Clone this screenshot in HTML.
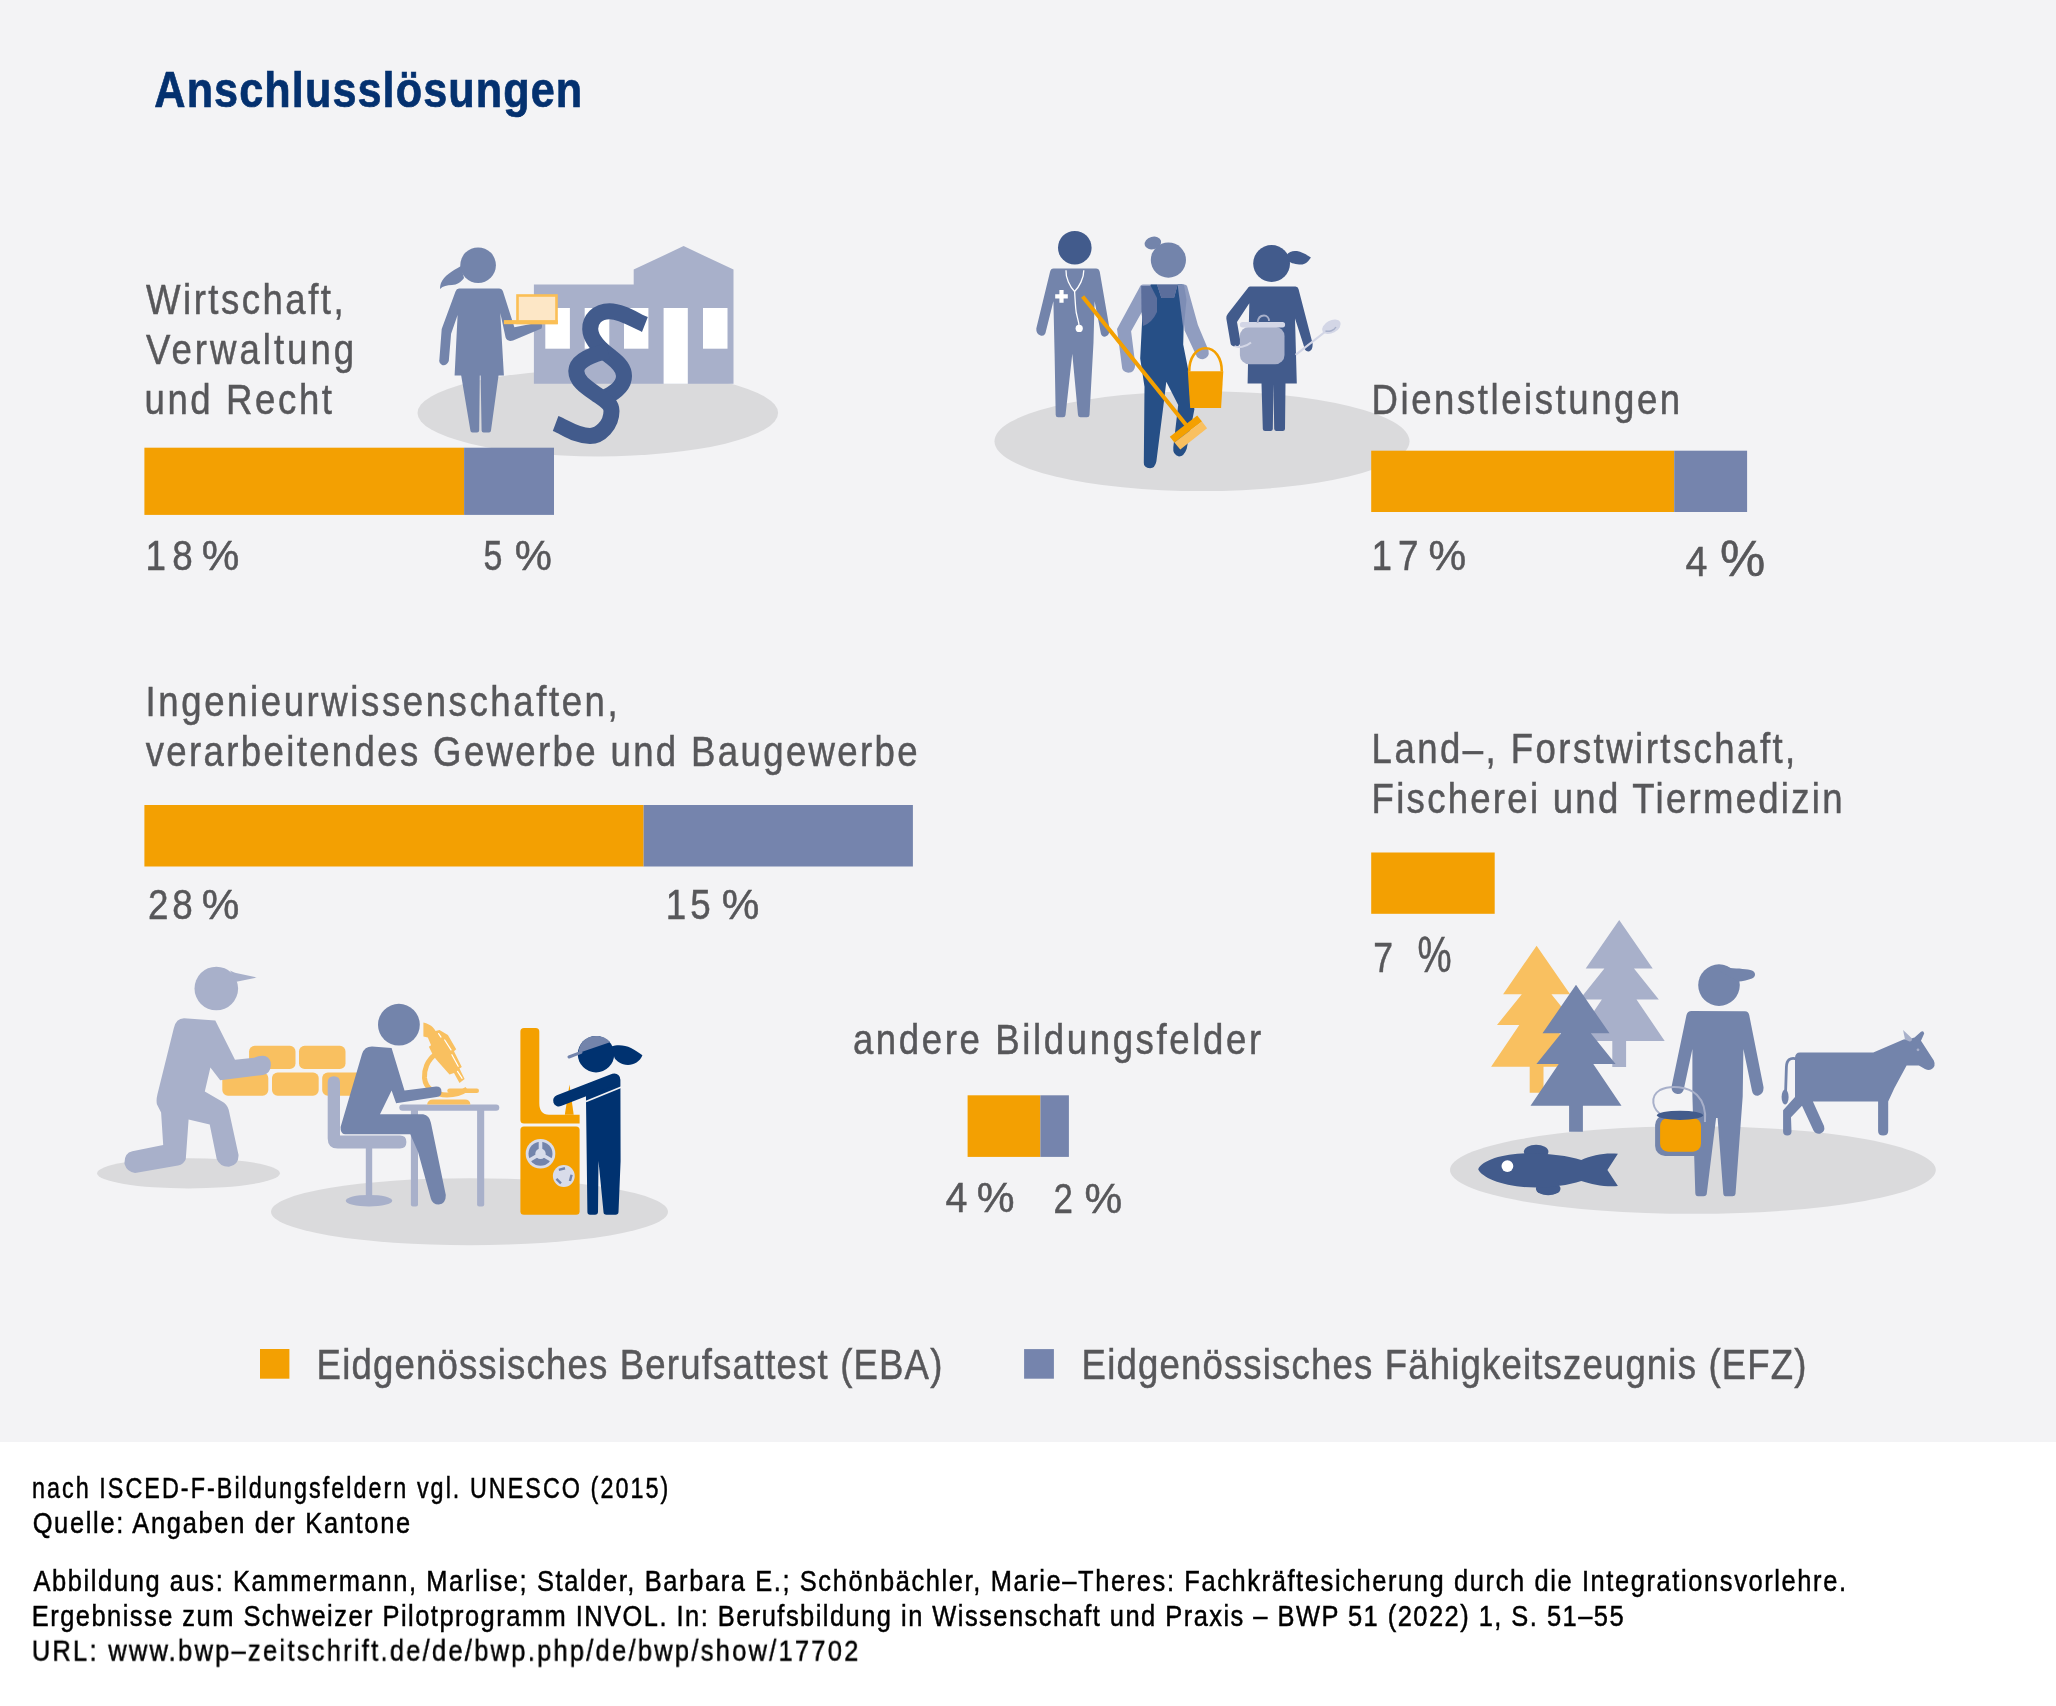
<!DOCTYPE html>
<html><head><meta charset="utf-8"><title>Anschlusslösungen</title>
<style>html,body{margin:0;padding:0;background:#fff;width:2056px;height:1706px;overflow:hidden}
svg{display:block;will-change:transform} text{font-family:"Liberation Sans",sans-serif}</style></head>
<body>
<svg width="2056" height="1706" viewBox="0 0 2056 1706">
<rect x="0" y="0" width="2056" height="1442" fill="#f3f3f5"/>
<!-- ground ellipses -->
<ellipse cx="597.8" cy="413" rx="180.3" ry="43.4" fill="#dadadc"/>
<ellipse cx="1202" cy="441.2" rx="207.5" ry="49.9" fill="#dadadc"/>
<ellipse cx="188.5" cy="1173.3" rx="91.4" ry="15.1" fill="#dadadc"/>
<ellipse cx="469.5" cy="1211.7" rx="198.5" ry="33.5" fill="#dadadc"/>
<ellipse cx="1692.9" cy="1170" rx="242.9" ry="43.8" fill="#dadadc"/>

<!-- FIG 1: building, woman, paragraph -->
<g id="fig1">
 <path d="M533.9 284.5 H633.7 V269.6 L683.6 246.1 L733.5 269.6 V383.8 H533.9 Z" fill="#a8b0ca"/>
 <rect x="545.3" y="308" width="24.6" height="40.7" fill="#fff"/>
 <rect x="584.7" y="308" width="24.6" height="40.7" fill="#fff"/>
 <rect x="624" y="308" width="24.4" height="40.7" fill="#fff"/>
 <rect x="663.6" y="308" width="24.2" height="75.8" fill="#fff"/>
 <rect x="703" y="308" width="24.5" height="40.7" fill="#fff"/>
 <g fill="#7384ab">
  <circle cx="478.1" cy="265.2" r="17.8"/>
  <path d="M461 266 C452 271 444 276 441 283 C440 286 440 288 440 289 C443 286 447 285 452 285 C457 285 461 282 464 278 Z"/>
  <path d="M459 288.6 H499 Q502 288.6 503 291.5 L514.4 327.3 L538.5 322.5 Q543.5 323 541.5 328.5 L513 340.5 Q507.5 342 505.6 337.5 L500.3 313 L503.9 375.4 H454.6 L457.6 315 L451.1 333.8 L448.8 361 Q446 366.5 442 365 Q438.5 363 439.4 359.6 L441.7 329.1 L455.5 291.5 Q456.5 288.6 459 288.6 Z"/>
  <path d="M461.1 375 H479.8 L479.2 430.5 Q479 432.5 477 432.5 H472.5 Q470.5 432.5 470.4 430.5 Z"/>
  <path d="M480.6 375 H498.6 L491 430.5 Q490.8 432.5 489 432.5 H483.6 Q481.6 432.5 481.6 430.5 Z"/>
 </g>
 <rect x="517.5" y="295.5" width="39" height="27.4" fill="#fde7c6" stroke="#fbbf55" stroke-width="2.6"/>
 <rect x="503.9" y="320.1" width="53.9" height="4.1" fill="#fbbf55"/>
 <g fill="none" stroke="#425b8c" stroke-width="16">
  <path d="M644.9,324.5 C636,321 622,311.2 609.6,311.2 C597,311.2 590,320 590.2,329 C590.5,340 600,349 611,357 C620,364 624,369 624,376 C624,385 617,392 603,398.5"/>
  <path d="M608,351 C594,354 576.5,360 576.3,371 C576.5,381 586,387 596,394 C606,401 611.5,404 611.5,411 C611.5,425 600,436 590,436 C576,436 565,427 555.6,423.5"/>
 </g>
</g>

<!-- bars -->
<rect x="144.4" y="447.7" width="319.7" height="67.2" fill="#f3a002"/>
<rect x="464.1" y="447.7" width="89.9" height="67.2" fill="#7584ad"/>
<rect x="1371.2" y="450.7" width="303" height="61.3" fill="#f3a002"/>
<rect x="1674.2" y="450.7" width="72.9" height="61.3" fill="#7584ad"/>
<rect x="144.4" y="805" width="499.2" height="61.5" fill="#f3a002"/>
<rect x="643.6" y="805" width="269.3" height="61.5" fill="#7584ad"/>
<rect x="1371.2" y="852.5" width="123.5" height="61.3" fill="#f3a002"/>
<rect x="967.6" y="1095.3" width="72.8" height="61.6" fill="#f3a002"/>
<rect x="1040.4" y="1095.3" width="28.5" height="61.6" fill="#7584ad"/>
<rect x="260" y="1349" width="29.4" height="29.7" fill="#f3a002"/>
<rect x="1024.1" y="1349.1" width="29.8" height="29.6" fill="#7584ad"/>
<!-- FIG 2: services -->
<g id="fig2">
 <!-- doctor -->
 <circle cx="1074.8" cy="247.7" r="16.8" fill="#425b8c"/>
 <path fill="#7384ab" d="M1053.5 268.6 H1096 Q1099 268.6 1099.8 272 L1109.5 328.6 Q1110 335 1105.5 336.6 Q1101.5 337 1100.9 333.5 L1094.6 301.2 L1093.5 342.4 L1089.5 415 Q1089.3 417.3 1087 417.3 H1080.5 Q1078.2 417.3 1078 415 L1072.3 353.8 L1065.5 415 Q1065.3 417.3 1063 417.3 H1058 Q1055.8 417.3 1055.7 415 L1054.6 353.8 L1053.4 301.2 L1045.4 333.2 Q1044 336.5 1040.5 335.5 Q1036 334 1036.3 328.6 L1050 272 Q1050.8 268.6 1053.5 268.6 Z"/>
 <path fill="none" stroke="#fff" stroke-width="1.3" d="M1066 270.3 C1065.5 278 1070 287 1074.6 291.5 C1079 287 1084 278 1083.8 270.3 M1074.6 291.5 C1075 298 1075.3 303 1075.7 308 C1076 316 1079 320 1079.2 327"/>
 <circle cx="1079.2" cy="328.4" r="3.6" fill="#fff"/>
 <path fill="#fff" d="M1059.4 290.1 H1063.6 V294.3 H1067.8 V298.5 H1063.6 V302.7 H1059.4 V298.5 H1055.2 V294.3 H1059.4 Z"/>
 <!-- cleaner -->
 <ellipse cx="1152.9" cy="243" rx="8.4" ry="6.2" transform="rotate(-15 1152.9 243)" fill="#7384ab"/>
 <circle cx="1168.4" cy="260.1" r="17.6" fill="#7384ab"/>
 <path fill="#909dc0" d="M1143 284.5 H1184 Q1187 284.5 1187.5 287.5 L1197.9 324.9 L1208.5 350.2 Q1210 357.5 1203 359.3 Q1197.5 359 1195.8 354.4 L1184.6 330.5 L1183.2 316.4 L1141.7 312.2 L1131.1 331.2 L1135.3 364.2 Q1135 372.5 1128.3 372.7 Q1122 372 1122 367.1 L1117 329.1 L1139.5 287.5 Q1140.5 284.5 1143 284.5 Z"/>
 <path fill="#264f86" d="M1150.8 284.5 H1157 L1161.4 298.1 H1174 L1177.6 284.5 H1182.5 L1183.9 316.4 L1183.2 344.5 L1188.8 372.7 L1194.4 409.3 L1186.7 448.7 Q1184 456.4 1179 456.4 Q1172.5 455 1173.3 447.2 L1178.2 405 L1166.3 381.8 L1163.5 405 L1156.4 461.3 Q1155 468.3 1150.1 468.3 Q1143.5 467.5 1143.8 462.7 L1144.5 386.8 L1140.2 358.6 L1142.4 315 Z"/>
 <path fill="#5b6e9c" d="M1141.2 286 H1150.8 L1157 298.1 V312 Q1152 323 1143 326 L1141.5 312 Z"/>
 <path fill="#5b6e9c" d="M1157 284.5 H1177.6 L1174 298.1 H1161.4 Z"/>
 <path fill="#7d8db5" d="M1177.6 284.5 H1184 L1186.5 300 L1184.5 320 L1183.5 330 Z"/>
 <path fill="none" stroke="#f4a000" stroke-width="4" d="M1082.6 296.4 L1186 424.7"/>
 <path fill="#f4a000" d="M1169.8 436.7 L1197.2 415.6 L1202 421.4 L1174.4 442.6 Z"/>
 <path fill="#f9c060" d="M1174.4 442.6 L1202 421.4 L1207.1 428.3 L1180.3 449.4 Z"/>
 <path fill="none" stroke="#f4a000" stroke-width="2.6" d="M1189.2 371.5 C1189.2 358 1196 348.3 1205.6 348.3 C1215 348.3 1221.8 358 1221.8 371.5"/>
 <path fill="#f4a000" d="M1187.8 371.3 H1223.3 L1221.1 407.9 H1190.2 Z"/>
 <!-- cook -->
 <circle cx="1271.6" cy="263.5" r="18.4" fill="#425b8c"/>
 <path fill="#425b8c" d="M1286.5 255 C1289 251.5 1293 250.5 1297 251.1 C1302 252 1307 255 1310.9 257.6 C1308 262 1305 264.6 1301 264.6 C1296 264.6 1291 263 1288.5 261.5 Z"/>
 <path fill="#425b8c" d="M1250 286.5 H1295.5 Q1298 286.5 1298.5 289 L1312.6 343.5 Q1313 350 1309 351.4 Q1305 351.5 1304.5 348 L1295 318.6 L1296.8 383.6 H1285.5 L1285 429 Q1284.8 431.1 1282.8 431.1 H1276.5 Q1274.5 431.1 1274.2 429 L1273.5 384 L1272.8 429 Q1272.6 431.1 1270.6 431.1 H1265 Q1263 431.1 1262.8 429 L1261.5 383.6 H1247.6 L1249.3 303.3 L1237 322.1 L1240.5 342 Q1240 346.5 1235.2 346.5 Q1231 346 1230.6 343.5 L1226.4 319 Q1226 316 1228 313.5 L1247.5 288.5 Q1248.5 286.5 1250 286.5 Z"/>
 <rect x="1239.9" y="326.8" width="44.6" height="37.5" rx="9.4" fill="#a8b0ca"/>
 <rect x="1239.9" y="322.1" width="45.2" height="5.3" rx="2.6" fill="#d3d6e6"/>
 <path fill="none" stroke="#a8b0ca" stroke-width="1.8" d="M1257.5 323 C1258 317 1261 315.5 1264 315.5 C1267 315.5 1269 318 1269 321"/>
 <path fill="none" stroke="#d3d6e6" stroke-width="2" d="M1234.5 346 C1238 348 1246 347 1251 342.5"/>
 <path fill="none" stroke="#d3d6e6" stroke-width="2.2" d="M1295.6 354.9 L1325.5 331.5"/>
 <ellipse cx="1331.4" cy="326.8" rx="10" ry="6.3" transform="rotate(-28 1331.4 326.8)" fill="#d3d6e6"/>
 <path fill="none" stroke="#a8b0ca" stroke-width="1.5" d="M1325.5 331 C1329 332 1334 330.5 1336 327"/>
</g>
<!-- FIG 3: construction / lab / machine -->
<g id="fig3">
 <!-- bricks -->
 <g fill="#f9c060">
  <rect x="249.1" y="1045.8" width="46.4" height="23.2" rx="5.6"/>
  <rect x="299" y="1045.8" width="46.5" height="23.2" rx="5.6"/>
  <rect x="222.3" y="1072.5" width="46" height="23.2" rx="5.6"/>
  <rect x="272" y="1072.5" width="46.7" height="23.2" rx="5.6"/>
  <rect x="322.2" y="1072.5" width="40" height="23.2" rx="5.6"/>
 </g>
 <!-- bricklayer -->
 <g fill="#a8b0ca">
  <circle cx="216.3" cy="988.5" r="21.8"/>
  <path d="M230 970.5 C233 972 235 973 236 973 L256.8 977.5 L236.4 981.7 Z"/>
  <path d="M184 1018.3 L215.3 1020.4 L235 1059.8 L254 1057.7 Q260 1055 265 1056 Q271 1058 270.9 1065 Q270.5 1073.5 263 1075 L220.2 1080.2 L210.4 1067.6 L204.8 1091.5 L221.6 1101.3 Q227 1104 228.7 1109.8 L238.5 1154.8 Q239 1165 229 1166.8 Q220 1167 216.7 1159 L209.7 1124.5 L188.6 1119.6 L185.8 1159 Q184 1164.5 178 1165.4 L135.1 1173.1 Q127 1172 124.5 1164 Q124 1153 132.3 1151.3 L163.2 1145 L161.1 1112.6 L156.9 1104.2 Q156 1100 157.5 1094 L173.8 1028.2 Q176 1018.5 184 1018.3 Z"/>
 </g>
 <!-- chair -->
 <g fill="#a8b0ca">
  <path d="M327.7 1082.5 Q327.7 1076.3 333.85 1076.3 Q340 1076.3 340 1082.5 V1135.6 H400 Q406.4 1135.6 406.4 1142 Q406.4 1148.5 400 1148.5 H337.7 Q327.7 1148.5 327.7 1138.5 Z"/>
  <rect x="365.8" y="1148" width="6.4" height="50"/>
  <ellipse cx="369" cy="1200.7" rx="23.2" ry="5.8"/>
 </g>
 <!-- table -->
 <g fill="#a8b0ca">
  <rect x="399.3" y="1104.4" width="100" height="6.4" rx="3.2"/>
  <rect x="410.9" y="1108" width="7.1" height="98.5" rx="2"/>
  <rect x="477.1" y="1108" width="7.1" height="98.5" rx="2"/>
 </g>
 <!-- microscope -->
 <g fill="#f9c060">
  <path d="M427 1104.4 Q428 1099.6 433 1099.6 H465 Q470 1099.6 470.4 1104.4 Z"/>
  <rect x="447.3" y="1088.5" width="31.7" height="4.5" rx="2.2"/>
  <path fill="none" stroke="#f9c060" stroke-width="5" d="M436 1054 C427 1060 424 1070 424.5 1078 C425.5 1089 436 1095 447 1095 C456 1095 463 1092 467 1089"/>
  <path d="M423.4 1022.5 C427 1023.5 431 1025 432.8 1027.2 C434 1028.5 435 1030 435.6 1031.1 L439.5 1030 L447.9 1035 L456.2 1049.2 L454 1051.2 L461.8 1067.1 L459.5 1068.5 L464.6 1079 L459.5 1082.9 L454 1072.9 L449.5 1074.6 L437.3 1060.7 L433.4 1055.9 L428.9 1046.7 L431.1 1045.3 L427.8 1037.5 L423.4 1036.4 Z"/>
 </g>
 <g fill="none" stroke="#fff" stroke-width="1.2" stroke-linecap="round">
  <path d="M438.6 1033.6 L441 1037.1"/>
  <path d="M444.7 1040 L451 1049.9"/>
  <path d="M451.9 1054.7 L458.2 1066.3"/>
  <path d="M457.5 1071.4 L462.1 1078.3"/>
 </g>
 <!-- scientist -->
 <g fill="#7384ab">
  <circle cx="398.9" cy="1024.7" r="20.9"/>
  <path d="M372 1046.6 L391.6 1047.9 L404.5 1090.4 L436.1 1086.6 Q441.5 1086.5 441.5 1091.7 Q441.5 1096.5 436.7 1096.9 L396.1 1103.3 L391.6 1090.4 L380 1114.3 H423.2 Q429.5 1115.5 430.9 1122.7 L445.8 1194.9 Q446 1203.5 438.7 1204.6 Q432.5 1204.5 430.9 1198.8 L418 1151.7 L410.3 1134.3 H345 Q340.3 1134 340.6 1127 L362 1054 Q364.5 1046.6 372 1046.6 Z"/>
 </g>
 <!-- machine -->
 <g fill="#f4a000">
  <path d="M524 1028 H535.7 Q539.3 1028 539.3 1031.6 V1103 Q539.3 1114.7 549 1114.7 H579.6 V1123.6 H524 Q520.4 1123.6 520.4 1120 V1031.6 Q520.4 1028 524 1028 Z"/>
  <path d="M569.5 1084.5 L573.7 1114.7 H564.8 Z"/>
  <rect x="520.4" y="1126.5" width="59.2" height="88.2" rx="3.5"/>
 </g>
 <circle cx="540.5" cy="1153.8" r="14.8" fill="#d8dcea"/>
 <circle cx="540.5" cy="1153.8" r="12" fill="#7384ab"/>
 <g stroke="#d8dcea" stroke-width="3.6"><path d="M540.5 1153.8 L540.50 1140.80"/><path d="M540.5 1153.8 L551.76 1160.30"/><path d="M540.5 1153.8 L529.24 1160.30"/></g>
 <circle cx="540.5" cy="1153.8" r="5.2" fill="#d8dcea"/>
 <circle cx="563.8" cy="1176" r="10.9" fill="#d8dcea"/>
 <g stroke="#7384ab" stroke-width="2.4" fill="none"><path d="M558.85 1169.87 L565.03 1168.22"/><path d="M571.58 1174.77 L569.93 1180.95"/><path d="M560.97 1183.35 L556.45 1178.83"/></g>
 <!-- girl -->
 <g fill="#003270">
  <circle cx="596" cy="1054.2" r="18.2"/>
  <path d="M611.3 1046.6 C617 1044.5 625 1045 631 1048 C636 1050.5 640 1053.5 642.4 1055.2 C640 1061.5 634 1064.9 628 1064.9 C621 1064.9 616.5 1061 614.5 1058 Z"/>
  <path d="M586 1095 L620.4 1079.2 L620.6 1160.9 L618.5 1212 Q618.3 1214.7 615.5 1214.7 H606.5 Q603.5 1214.7 603.5 1212 L598.5 1161 L598 1212 Q597.8 1214.7 595 1214.7 H590 Q587.5 1214.7 587.4 1212 L586 1100 Z"/>
 </g>
 <path fill="none" stroke="#003270" stroke-width="11.6" stroke-linecap="round" d="M614.4 1079.2 L558.9 1100.7"/>
 <path fill="none" stroke="#f3f3f5" stroke-width="1.8" d="M586 1101.5 L621.5 1087"/>
 <path fill="#7384ab" d="M578.5 1053 C578.5 1043 586 1036 596 1036 C602.5 1036 607.5 1038.5 610 1042.3 Z"/>
 <path fill="none" stroke="#7384ab" stroke-width="3" stroke-linecap="round" d="M569 1057 L581 1052.3"/>
</g>
<!-- FIG 4: agriculture -->
<g id="fig4">
<path fill="#f9c060" d="M1536.6 945.7 L1570.1 994.2 H1551.4 L1576.2 1025.0 H1553.9 L1582.1 1066.7 H1543.5 V1092.7 H1529.7 V1066.7 H1491.1 L1519.3 1025.0 H1497.0 L1521.8 994.2 H1503.1 Z"/>
<path fill="#a8b0ca" d="M1619.2 920.1 L1652.7 968.6 H1634.0 L1658.8 999.4 H1636.5 L1664.7 1041.1 H1626.1 V1067.1 H1612.3 V1041.1 H1573.7 L1601.9 999.4 H1579.6 L1604.4 968.6 H1585.7 Z"/>
<path fill="#7384ab" d="M1576.0 984.8 L1609.5 1033.3 H1590.8 L1615.6 1064.1 H1593.3 L1621.5 1105.8 H1582.9 V1131.8 H1569.1 V1105.8 H1530.5 L1558.7 1064.1 H1536.4 L1561.2 1033.3 H1542.5 Z"/>

 <!-- farmer -->
 <g fill="#7384ab">
  <circle cx="1719" cy="985.1" r="20.8"/>
  <path d="M1712 966.5 C1718 964 1724 964.5 1730 968 C1738 968.5 1748 969 1752 970.5 C1756 972 1756 977 1752 978.5 C1748 980 1743 981.5 1738 981.5 Z"/>
  <path d="M1691.5 1011 L1745 1011.3 Q1748.5 1011.5 1749.2 1015 L1763.5 1087 Q1764 1094 1758 1095.7 Q1753 1096 1752 1090.7 L1743.4 1049 L1742.7 1096.4 L1735.5 1194 Q1735 1196.3 1732.5 1196.3 H1726.5 Q1723.5 1196.3 1723.3 1193.4 L1717.6 1118 H1716.1 L1706.8 1193.5 Q1706.5 1196.3 1703.5 1196.3 H1698 Q1695.5 1196.3 1695.3 1193 L1692.4 1096 V1049 L1683.8 1089.3 Q1682.5 1094.5 1677.3 1094 Q1671 1092.5 1671.6 1086.4 L1686.5 1015 Q1687.5 1011 1691.5 1011 Z"/>
 </g>
 <!-- bucket -->
 <path fill="none" stroke="#a8b0ca" stroke-width="2" d="M1664 1116 C1651 1110 1650 1096 1660 1090 C1670 1085 1688 1086 1697 1095 C1704 1102 1706 1110 1705 1122"/>
 <rect x="1655.1" y="1115.1" width="48.8" height="40.9" rx="10" fill="#7384ab"/>
 <rect x="1660.1" y="1118" width="40.9" height="33.7" rx="8" fill="#f4a000"/>
 <ellipse cx="1680" cy="1115.3" rx="23" ry="4.6" fill="#425b8c"/>
 <!-- cow -->
 <g fill="#7384ab">
  <path d="M1796.3 1052.4 H1873.3 L1903.5 1039.5 L1911 1038.5 L1914.5 1037.5 L1921 1031.8 Q1923.5 1030.3 1924.2 1033.5 L1921 1040.8 L1933.8 1060.5 Q1936.5 1066.5 1931 1069.5 Q1928.5 1070.5 1925 1069 L1918.9 1065.5 H1906.6 L1894.3 1088.3 L1888.2 1101.4 V1131 Q1888.2 1135.6 1883.15 1135.6 Q1878.1 1135.6 1878.1 1131 V1101.4 H1812.9 L1824 1126 Q1825.5 1131.5 1820.5 1133.5 Q1816 1134.5 1813.5 1130.5 L1802 1105.8 L1791 1117.2 L1791.5 1131.5 Q1791.5 1135.6 1787.3 1135.6 Q1783.1 1135.6 1783.1 1131.5 L1783.1 1110.2 L1795 1097 V1058 Q1795 1052.4 1800 1052.4 Z"/>
  <path fill="none" stroke="#7384ab" stroke-width="2.8" d="M1797 1059 C1790 1057 1786.6 1060 1786.4 1067 L1785.6 1092"/>
  <ellipse cx="1785.1" cy="1097" rx="3.5" ry="7.4"/>
 </g>
 <path fill="#a8b0ca" d="M1903.1 1030.1 L1911.8 1038.2 Q1912.5 1041.5 1909.5 1041.5 L1905 1039.5 Z"/>
 <circle cx="1918" cy="1049.8" r="1.4" fill="#a8b0ca"/>
 <!-- fish -->
 <g fill="#425b8c">
  <ellipse cx="1536.1" cy="1151.7" rx="12.3" ry="7"/>
  <ellipse cx="1548.2" cy="1188.7" rx="12.3" ry="6.6"/>
  <path d="M1478.2 1169.2 C1482 1160 1505 1153 1530 1153.3 C1550 1153.5 1568 1156 1581.3 1159.9 C1592 1155 1605 1152.5 1617.9 1153.7 L1607.4 1170 L1617.9 1186 C1605 1187 1592 1184.5 1581.3 1180.9 C1568 1185 1552 1187.5 1536 1187.5 C1505 1187.5 1482 1178 1478.2 1169.2 Z"/>
 </g>
 <circle cx="1507.4" cy="1166.1" r="5.9" fill="#fff"/>
</g>

<text transform="translate(154.35,107.00) scale(0.8500,1)" font-size="50.87" letter-spacing="1.268" fill="#04316f" stroke="#04316f" stroke-width="0.7" font-weight="bold">Anschlusslösungen</text>
<text transform="translate(146.10,314.10) scale(0.8500,1)" font-size="43.02" letter-spacing="2.924" fill="#57575a" stroke="#57575a" stroke-width="0.5">Wirtschaft,</text>
<text transform="translate(146.00,364.00) scale(0.8500,1)" font-size="43.02" letter-spacing="3.569" fill="#57575a" stroke="#57575a" stroke-width="0.5">Verwaltung</text>
<text transform="translate(144.45,413.80) scale(0.8500,1)" font-size="43.02" letter-spacing="3.081" fill="#57575a" stroke="#57575a" stroke-width="0.5">und Recht</text>
<text transform="translate(145.45,569.90) scale(0.8500,1)" font-size="43.31" letter-spacing="7.353" fill="#57575a" stroke="#57575a" stroke-width="0.5">18</text>
<text transform="translate(201.73,569.90) scale(0.9857,1)" font-size="42.88" letter-spacing="0.000" fill="#57575a" stroke="#57575a" stroke-width="0.5">%</text>
<text transform="translate(483.53,569.90) scale(0.7850,1)" font-size="43.31" letter-spacing="0.000" fill="#57575a" stroke="#57575a" stroke-width="0.5">5</text>
<text transform="translate(514.85,569.90) scale(0.9743,1)" font-size="42.88" letter-spacing="0.000" fill="#57575a" stroke="#57575a" stroke-width="0.5">%</text>
<text transform="translate(1371.55,569.90) scale(0.8500,1)" font-size="43.31" letter-spacing="7.000" fill="#57575a" stroke="#57575a" stroke-width="0.5">17</text>
<text transform="translate(1428.52,569.90) scale(0.9886,1)" font-size="42.88" letter-spacing="0.000" fill="#57575a" stroke="#57575a" stroke-width="0.5">%</text>
<text transform="translate(1685.39,575.75) scale(0.9091,1)" font-size="43.31" letter-spacing="0.000" fill="#57575a" stroke="#57575a" stroke-width="0.5">4</text>
<text transform="translate(1719.95,575.75) scale(1.0250,1)" font-size="49.71" letter-spacing="0.000" fill="#57575a" stroke="#57575a" stroke-width="0.5">%</text>
<text transform="translate(147.90,918.80) scale(0.8500,1)" font-size="43.31" letter-spacing="4.471" fill="#57575a" stroke="#57575a" stroke-width="0.5">28</text>
<text transform="translate(201.73,918.80) scale(0.9857,1)" font-size="42.88" letter-spacing="0.000" fill="#57575a" stroke="#57575a" stroke-width="0.5">%</text>
<text transform="translate(665.75,918.80) scale(0.8500,1)" font-size="43.31" letter-spacing="4.882" fill="#57575a" stroke="#57575a" stroke-width="0.5">15</text>
<text transform="translate(721.73,918.80) scale(0.9857,1)" font-size="42.88" letter-spacing="0.000" fill="#57575a" stroke="#57575a" stroke-width="0.5">%</text>
<text transform="translate(1373.26,971.80) scale(0.8200,1)" font-size="43.31" letter-spacing="0.000" fill="#57575a" stroke="#57575a" stroke-width="0.5">7</text>
<text transform="translate(1417.55,971.80) scale(0.7725,1)" font-size="49.71" letter-spacing="0.000" fill="#57575a" stroke="#57575a" stroke-width="0.5">%</text>
<text transform="translate(945.39,1212.00) scale(0.9091,1)" font-size="43.31" letter-spacing="0.000" fill="#57575a" stroke="#57575a" stroke-width="0.5">4</text>
<text transform="translate(976.82,1212.00) scale(0.9914,1)" font-size="42.88" letter-spacing="0.000" fill="#57575a" stroke="#57575a" stroke-width="0.5">%</text>
<text transform="translate(1053.49,1212.90) scale(0.8050,1)" font-size="43.31" letter-spacing="0.000" fill="#57575a" stroke="#57575a" stroke-width="0.5">2</text>
<text transform="translate(1084.52,1212.90) scale(0.9886,1)" font-size="42.88" letter-spacing="0.000" fill="#57575a" stroke="#57575a" stroke-width="0.5">%</text>
<text transform="translate(1371.60,413.90) scale(0.8500,1)" font-size="43.02" letter-spacing="3.008" fill="#57575a" stroke="#57575a" stroke-width="0.5">Dienstleistungen</text>
<text transform="translate(145.60,715.80) scale(0.8500,1)" font-size="43.02" letter-spacing="3.049" fill="#57575a" stroke="#57575a" stroke-width="0.5">Ingenieurwissenschaften,</text>
<text transform="translate(145.70,765.60) scale(0.8500,1)" font-size="43.02" letter-spacing="2.781" fill="#57575a" stroke="#57575a" stroke-width="0.5">verarbeitendes Gewerbe und Baugewerbe</text>
<text transform="translate(1371.60,762.80) scale(0.8500,1)" font-size="43.02" letter-spacing="2.885" fill="#57575a" stroke="#57575a" stroke-width="0.5">Land–, Forstwirtschaft,</text>
<text transform="translate(1371.60,812.90) scale(0.8500,1)" font-size="43.02" letter-spacing="2.669" fill="#57575a" stroke="#57575a" stroke-width="0.5">Fischerei und Tiermedizin</text>
<text transform="translate(852.90,1054.20) scale(0.8500,1)" font-size="43.02" letter-spacing="3.094" fill="#57575a" stroke="#57575a" stroke-width="0.5">andere Bildungsfelder</text>
<text transform="translate(316.60,1378.80) scale(0.8500,1)" font-size="43.02" letter-spacing="1.376" fill="#57575a" stroke="#57575a" stroke-width="0.5">Eidgenössisches Berufsattest (EBA)</text>
<text transform="translate(1081.60,1378.80) scale(0.8500,1)" font-size="43.02" letter-spacing="1.372" fill="#57575a" stroke="#57575a" stroke-width="0.5">Eidgenössisches Fähigkeitszeugnis (EFZ)</text>
<text transform="translate(31.94,1498.00) scale(0.7800,1)" font-size="29.94" letter-spacing="2.627" fill="#000" stroke="#000" stroke-width="0.5">nach ISCED-F-Bildungsfeldern vgl. UNESCO (2015)</text>
<text transform="translate(32.65,1532.70) scale(0.8500,1)" font-size="29.94" letter-spacing="1.980" fill="#000" stroke="#000" stroke-width="0.5">Quelle: Angaben der Kantone</text>
<text transform="translate(33.50,1591.00) scale(0.8500,1)" font-size="29.94" letter-spacing="1.900" fill="#000" stroke="#000" stroke-width="0.5">Abbildung aus: Kammermann, Marlise; Stalder, Barbara E.; Schönbächler, Marie–Theres: Fachkräftesicherung durch die Integrationsvorlehre.</text>
<text transform="translate(31.80,1626.00) scale(0.8500,1)" font-size="29.94" letter-spacing="1.740" fill="#000" stroke="#000" stroke-width="0.5">Ergebnisse zum Schweizer Pilotprogramm INVOL. In: Berufsbildung in Wissenschaft und Praxis – BWP 51 (2022) 1, S. 51–55</text>
<text transform="translate(31.80,1660.70) scale(0.8500,1)" font-size="29.94" letter-spacing="2.682" fill="#000" stroke="#000" stroke-width="0.5">URL: www.bwp–zeitschrift.de/de/bwp.php/de/bwp/show/17702</text>
</svg>
</body></html>
